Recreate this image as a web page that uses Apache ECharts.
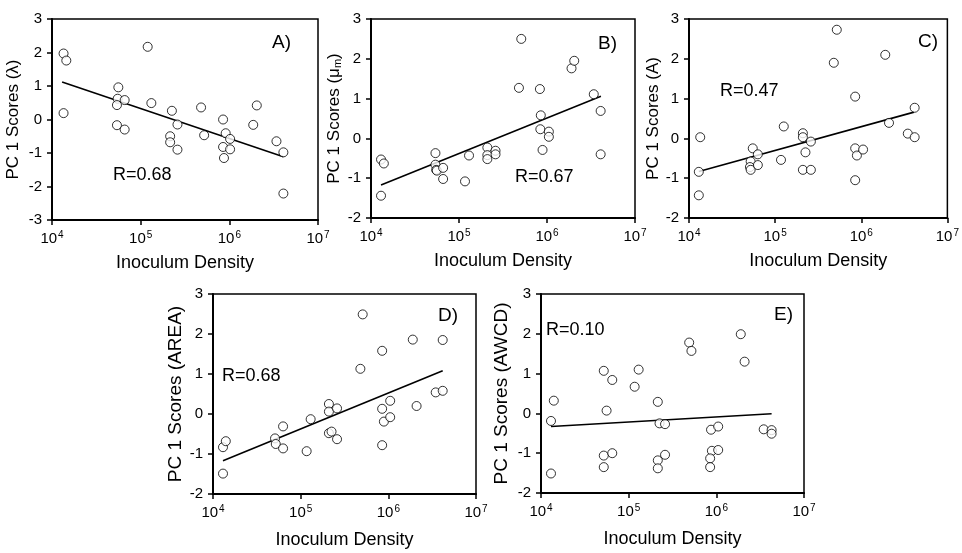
<!DOCTYPE html>
<html><head><meta charset="utf-8">
<script src="https://cdn.jsdelivr.net/npm/echarts@6/dist/echarts.min.js"></script>
<style>html,body{margin:0;padding:0;background:#fff;}#c{width:962px;height:553px;}</style>
</head><body><div id="c"></div>
<script>
// Inoculum densities (x) and PC1 scores (y) per panel
const xA = [1.35e4,1.45e4,1.35e4,5.6e4,5.5e4,5.4e4,6.6e4,5.4e4,6.6e4,1.2e5,1.32e5,2.25e5,2.6e5,2.15e5,2.15e5,2.6e5,4.8e5,5.2e5,8.5e5,9.1e5,1.02e6,8.5e5,1.02e6,8.7e5,1.86e6,2.04e6,3.4e6,4.07e6,4.07e6];
const yA = [1.97,1.76,0.19,0.96,0.62,0.43,0.58,-0.17,-0.30,2.17,0.49,0.26,-0.15,-0.50,-0.68,-0.90,0.36,-0.47,0.0,-0.41,-0.58,-0.82,-0.89,-1.15,-0.16,0.42,-0.65,-0.98,-2.21];
const fitA = [[1.3e4,1.12],[4.07e6,-1.11]];

const xB = [1.3e4,1.4e4,1.3e4,5.4e4,5.4e4,5.5e4,5.6e4,6.6e4,6.6e4,1.17e5,1.3e5,2.1e5,2.1e5,2.1e5,2.6e5,2.6e5,4.8e5,5.1e5,8.3e5,8.5e5,8.4e5,8.9e5,1.05e6,1.05e6,1.9e6,2.04e6,3.4e6,4.07e6,4.07e6];
const yB = [-0.53,-0.63,-1.44,-0.37,-0.66,-0.79,-0.81,-0.74,-1.02,-1.08,-0.43,-0.23,-0.42,-0.52,-0.31,-0.40,1.27,2.50,1.24,0.58,0.23,-0.29,0.17,0.04,1.76,1.95,1.11,0.69,-0.40];
const fitB = [[1.3e4,-1.17],[4.1e6,1.06]];

const xC = [1.35e4,1.3e4,1.3e4,5.5e4,5.2e4,5.1e4,5.2e4,6.3e4,6.3e4,1.17e5,1.26e5,2.1e5,2.1e5,2.25e5,2.6e5,2.1e5,2.6e5,4.8e5,5.2e5,8.5e5,8.5e5,8.9e5,1.05e6,8.5e5,1.9e6,2.1e6,3.47e6,4.17e6,4.17e6];
const yC = [0.03,-0.84,-1.43,-0.25,-0.58,-0.72,-0.79,-0.40,-0.67,-0.54,0.30,0.13,0.03,-0.35,-0.08,-0.79,-0.79,1.90,2.73,1.05,-0.25,-0.43,-0.28,-1.05,2.10,0.39,0.12,0.77,0.03];
const fitC = [[1.3e4,-0.83],[4.1e6,0.66]];

const xD = [1.3e4,1.4e4,1.3e4,5.1e4,5.2e4,6.3e4,6.3e4,1.17e5,1.3e5,2.1e5,2.1e5,2.6e5,2.1e5,2.25e5,2.6e5,4.8e5,5.1e5,8.5e5,8.5e5,8.9e5,1.05e6,1.05e6,8.5e5,1.9e6,2.1e6,3.47e6,4.17e6,4.17e6];
const yD = [-0.83,-0.68,-1.49,-0.61,-0.75,-0.31,-0.86,-0.93,-0.13,0.25,0.06,0.14,-0.48,-0.44,-0.63,1.13,2.49,1.58,0.13,-0.19,0.33,-0.08,-0.78,1.86,0.20,0.54,1.85,0.58];
const fitD = [[1.3e4,-1.17],[4.17e6,1.08]];

const xE = [1.4e4,1.3e4,1.3e4,5.2e4,6.5e4,5.6e4,5.2e4,6.5e4,5.2e4,1.17e5,1.3e5,2.15e5,2.25e5,2.6e5,2.15e5,2.15e5,2.6e5,4.9e5,5.2e5,8.7e5,1.05e6,8.9e5,1.05e6,8.5e5,8.5e5,1.9e6,2.1e6,3.47e6,4.27e6,4.27e6];
const yE = [0.32,-0.19,-1.51,1.07,0.84,0.07,-1.06,-1.00,-1.35,0.67,1.10,0.29,-0.25,-0.27,-1.18,-1.38,-1.04,1.78,1.57,-0.41,-0.33,-0.94,-0.92,-1.13,-1.35,1.99,1.30,-0.40,-0.42,-0.51];
const fitE = [[1.3e4,-0.33],[4.27e6,-0.01]];

const yTitles = ['PC 1 Scores (λ)','PC 1 Scores (μ{sub|m})','PC 1 Scores (A)','PC 1 Scores (AREA)','PC 1 Scores (AWCD)'];
const xTitle = 'Inoculum Density';
const panelLetters = ['A)','B)','C)','D)','E)'];
const rLabels = ['R=0.68','R=0.67','R=0.47','R=0.68','R=0.10'];
const yRanges = [[-3,3],[-2,3],[-2,3],[-2,3],[-2,3]];

const FONT = '"Liberation Sans", Arial, sans-serif';
const panels = [
  {x:xA,y:yA,fit:fitA, grid:{left:52,top:19,width:266,height:201}, yFs:17, yGap:30, xGap:34, letter:[272,44], r:[113,176]},
  {x:xB,y:yB,fit:fitB, grid:{left:371,top:19,width:264,height:199}, yFs:17, yGap:28, xGap:34, letter:[598,45], r:[515,178]},
  {x:xC,y:yC,fit:fitC, grid:{left:689,top:19,width:262,height:199}, yFs:17, yGap:27, xGap:34, letter:[918,43], r:[720,92]},
  {x:xD,y:yD,fit:fitD, grid:{left:213,top:294,width:263,height:200}, yFs:19, yGap:28, xGap:37, letter:[438,317], r:[222,377]},
  {x:xE,y:yE,fit:fitE, grid:{left:541,top:294,width:263,height:199}, yFs:19, yGap:30, xGap:37, letter:[774,316], r:[546,331]}
];

const grids=[], xAxes=[], yAxes=[], series=[], graphics=[];
panels.forEach((p,i)=>{
  grids.push(Object.assign({show:true,borderColor:'#000',borderWidth:1.5,backgroundColor:'transparent'},p.grid));
  xAxes.push({
    type:'log', logBase:10, min:1e4, max:1e7, gridIndex:i,
    name:xTitle, nameLocation:'middle', nameGap:p.xGap,
    nameTextStyle:{fontFamily:FONT,fontSize:18,color:'#000'},
    axisLine:{onZero:false,lineStyle:{color:'#000',width:2}},
    axisTick:{show:true,length:5,lineStyle:{color:'#000',width:1.5}},
    minorTick:{show:false}, splitLine:{show:false},
    axisLabel:{margin:10,color:'#000',fontFamily:FONT,fontSize:15,
      formatter:v=>'10{s|'+Math.round(Math.log10(v))+'}',
      rich:{s:{fontSize:10,fontFamily:FONT,color:'#000',verticalAlign:'top',padding:[0,0,8,1]}}}
  });
  yAxes.push({
    type:'value', min:yRanges[i][0], max:yRanges[i][1], interval:1, gridIndex:i,
    name:yTitles[i], nameLocation:'middle', nameGap:p.yGap, nameRotate:90,
    nameTextStyle:{fontFamily:FONT,fontSize:p.yFs,color:'#000',
      rich:{sub:{fontFamily:FONT,fontSize:11,color:'#000',padding:[6,0,0,0]}}},
    axisLine:{show:true,onZero:false,lineStyle:{color:'#000',width:2}},
    axisTick:{show:true,length:5,lineStyle:{color:'#000',width:1.5}},
    splitLine:{show:false},
    axisLabel:{margin:10,color:'#000',fontFamily:FONT,fontSize:15}
  });
  series.push({
    type:'line', xAxisIndex:i, yAxisIndex:i, data:p.fit, symbol:'none',
    lineStyle:{color:'#000',width:1.6}, silent:true, z:2
  });
  series.push({
    type:'scatter', xAxisIndex:i, yAxisIndex:i,
    data:p.x.map((v,k)=>[v,p.y[k]]),
    symbol:'circle', symbolSize:9,
    itemStyle:{color:'#fff',borderColor:'#000',borderWidth:1}, z:3
  });
  graphics.push({type:'text',left:p.letter[0],top:p.letter[1]-11,
    style:{text:panelLetters[i],font:'19px '+FONT,fill:'#000'}});
  graphics.push({type:'text',left:p.r[0],top:p.r[1]-10,
    style:{text:rLabels[i],font:'18px '+FONT,fill:'#000'}});
});

const chart = echarts.init(document.getElementById('c'),null,{renderer:'canvas'});
chart.setOption({
  animation:false, backgroundColor:'#fff',
  grid:grids, xAxis:xAxes, yAxis:yAxes, series:series, graphic:graphics
});
</script></body></html>
